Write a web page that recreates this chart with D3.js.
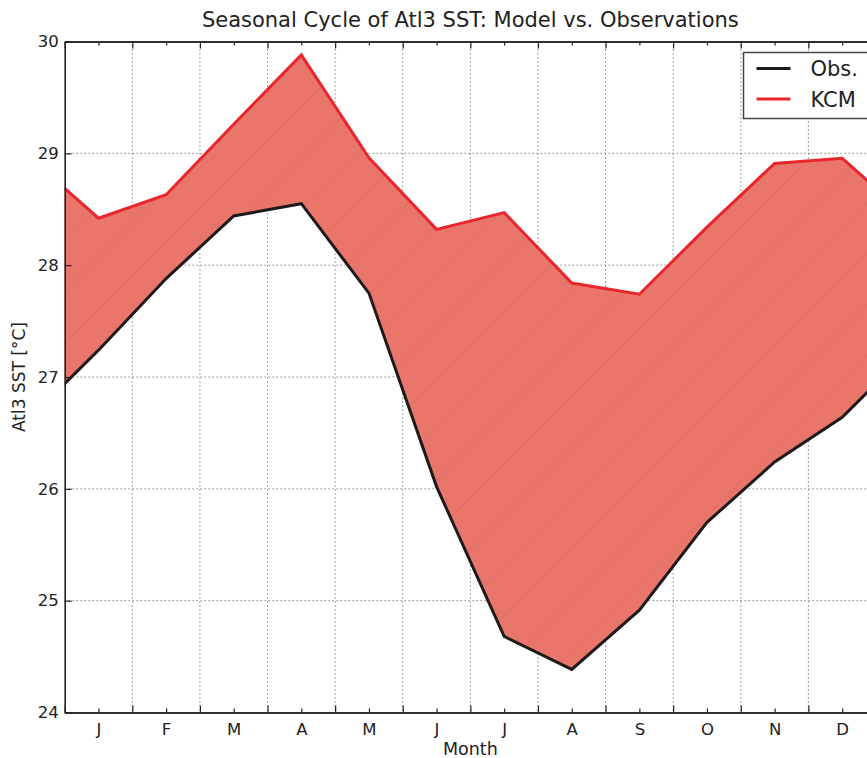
<!DOCTYPE html>
<html>
<head>
<meta charset="utf-8">
<script src="https://cdn.jsdelivr.net/npm/d3@7"></script>
<style>
  html, body { margin: 0; padding: 0; background: #fff; overflow: hidden; }
  svg { display: block; font-family: "DejaVu Sans", sans-serif; }
</style>
</head>
<body>
<svg id="chart" width="867" height="758"></svg>
<script>
// Monthly climatology of Atl3 SST (°C)
const months = ["J", "F", "M", "A", "M", "J", "J", "A", "S", "O", "N", "D"];
const obsValues = [27.24, 27.88, 28.44, 28.55, 27.75, 26.02, 24.68, 24.385, 24.915, 25.70, 26.24, 26.64];
const kcmValues = [28.42, 28.63, 29.26, 29.88, 28.96, 28.32, 28.47, 27.84, 27.74, 28.34, 28.91, 28.955];
const yTicks = [24, 25, 26, 27, 28, 29, 30];
const seriesNames = ["Obs.", "KCM"];
const seriesColors = ["#1f1a1a", "#e8262c"];

const svg = d3.select("#chart");
const margin = { left: 64.7, top: 41.5 };
const plotW = 811.3, plotH = 671;

const x = d3.scaleLinear().domain([0, 12]).range([margin.left, margin.left + plotW]);
const y = d3.scaleLinear().domain([24, 30]).range([margin.top + plotH, margin.top]);

// Cyclic series: December repeated before January and January after December
function cyclic(vals) {
  const pts = vals.map((v, i) => ({ m: i + 0.5, v }));
  return [{ m: -0.5, v: vals[11] }, ...pts, { m: 12.5, v: vals[0] }];
}
const obs = cyclic(obsValues);
const kcm = cyclic(kcmValues);

const defs = svg.append("defs");
defs.append("clipPath").attr("id", "plotClip")
  .append("rect").attr("x", margin.left).attr("y", margin.top)
  .attr("width", plotW).attr("height", plotH);

const hatch = defs.append("pattern").attr("id", "hatch")
  .attr("patternUnits", "userSpaceOnUse").attr("width", 36).attr("height", 36)
  .attr("patternTransform", "rotate(45)");
hatch.append("rect").attr("width", 36).attr("height", 36).attr("fill", "#ea766b");
hatch.append("line").attr("x1", 0).attr("y1", 0).attr("x2", 0).attr("y2", 36)
  .attr("stroke", "#d9685f").attr("stroke-width", 1.2);

// Grid
const grid = svg.append("g").attr("clip-path", "url(#plotClip)");
grid.selectAll(".vg").data(d3.range(1, 12)).join("line")
  .attr("x1", d => x(d)).attr("x2", d => x(d))
  .attr("y1", margin.top).attr("y2", margin.top + plotH)
  .attr("stroke", "#444").attr("stroke-width", 1).attr("stroke-dasharray", "1,3");
grid.selectAll(".hg").data(yTicks.slice(1, -1)).join("line")
  .attr("x1", margin.left).attr("x2", margin.left + plotW)
  .attr("y1", d => y(d)).attr("y2", d => y(d))
  .attr("stroke", "#444").attr("stroke-width", 1).attr("stroke-dasharray", "1,3");

// Band between observation and model
const band = d3.area()
  .x(d => x(d.m))
  .y0((d, i) => y(obs[i].v))
  .y1(d => y(d.v));
const plot = svg.append("g").attr("clip-path", "url(#plotClip)");
plot.append("path").datum(kcm).attr("d", band).attr("fill", "url(#hatch)");

const line = d3.line().x(d => x(d.m)).y(d => y(d.v));
[obs, kcm].forEach((s, i) => {
  plot.append("path").datum(s).attr("d", line)
    .attr("fill", "none").attr("stroke", seriesColors[i])
    .attr("stroke-width", 3).attr("stroke-linejoin", "miter");
});

// Axes
const axisColor = "#222";
const majorX = d3.range(0, 13);
const minorX = d3.range(12).map(i => i + 0.5);

const axBottom = svg.append("g").attr("transform", `translate(0,${margin.top + plotH})`)
  .call(d3.axisBottom(x).tickValues(minorX).tickFormat((d, i) => months[i]).tickSizeInner(-4).tickSizeOuter(0).tickPadding(11));
axBottom.append("g").call(d3.axisBottom(x).tickValues(majorX).tickFormat("").tickSizeInner(-7).tickSizeOuter(0));

const axTop = svg.append("g").attr("transform", `translate(0,${margin.top})`)
  .call(d3.axisTop(x).tickValues(minorX).tickFormat("").tickSizeInner(-4).tickSizeOuter(0));
axTop.append("g").call(d3.axisTop(x).tickValues(majorX).tickFormat("").tickSizeInner(-7).tickSizeOuter(0));

svg.append("g").attr("transform", `translate(${margin.left},0)`)
  .call(d3.axisLeft(y).tickValues(yTicks).tickFormat(d3.format("d")).tickSizeInner(-7).tickSizeOuter(0).tickPadding(6));

svg.selectAll(".domain").attr("stroke", axisColor).attr("stroke-width", 1.6);
svg.selectAll(".tick line").attr("stroke", axisColor).attr("stroke-width", 1.2);
svg.selectAll(".tick text").attr("fill", "#222").style("font-size", "16.5px")
  .style("font-family", "DejaVu Sans, sans-serif");

// Titles
svg.append("text").attr("x", x(6)).attr("y", 27).attr("text-anchor", "middle")
  .attr("fill", "#222").style("font-size", "21px")
  .text("Seasonal Cycle of Atl3 SST: Model vs. Observations");
svg.append("text").attr("x", x(6)).attr("y", 755).attr("text-anchor", "middle")
  .attr("fill", "#222").style("font-size", "17.5px").text("Month");
svg.append("text").attr("transform", `translate(25,${y(27)}) rotate(-90)`)
  .attr("text-anchor", "middle").attr("fill", "#222").style("font-size", "17px")
  .text("Atl3 SST [°C]");

// Legend
const lg = svg.append("g").attr("transform", "translate(743.5,52.5)");
lg.append("rect").attr("width", 128).attr("height", 66)
  .attr("fill", "#fff").attr("stroke", "#444").attr("stroke-width", 1.5);
seriesNames.forEach((name, i) => {
  const ly = 16 + i * 30.5;
  lg.append("line").attr("x1", 13).attr("x2", 47).attr("y1", ly).attr("y2", ly)
    .attr("stroke", seriesColors[i]).attr("stroke-width", 3);
  lg.append("text").attr("x", 67).attr("y", ly + 7.5).attr("fill", "#222")
    .style("font-size", "21px").text(name);
});
</script>
</body>
</html>
